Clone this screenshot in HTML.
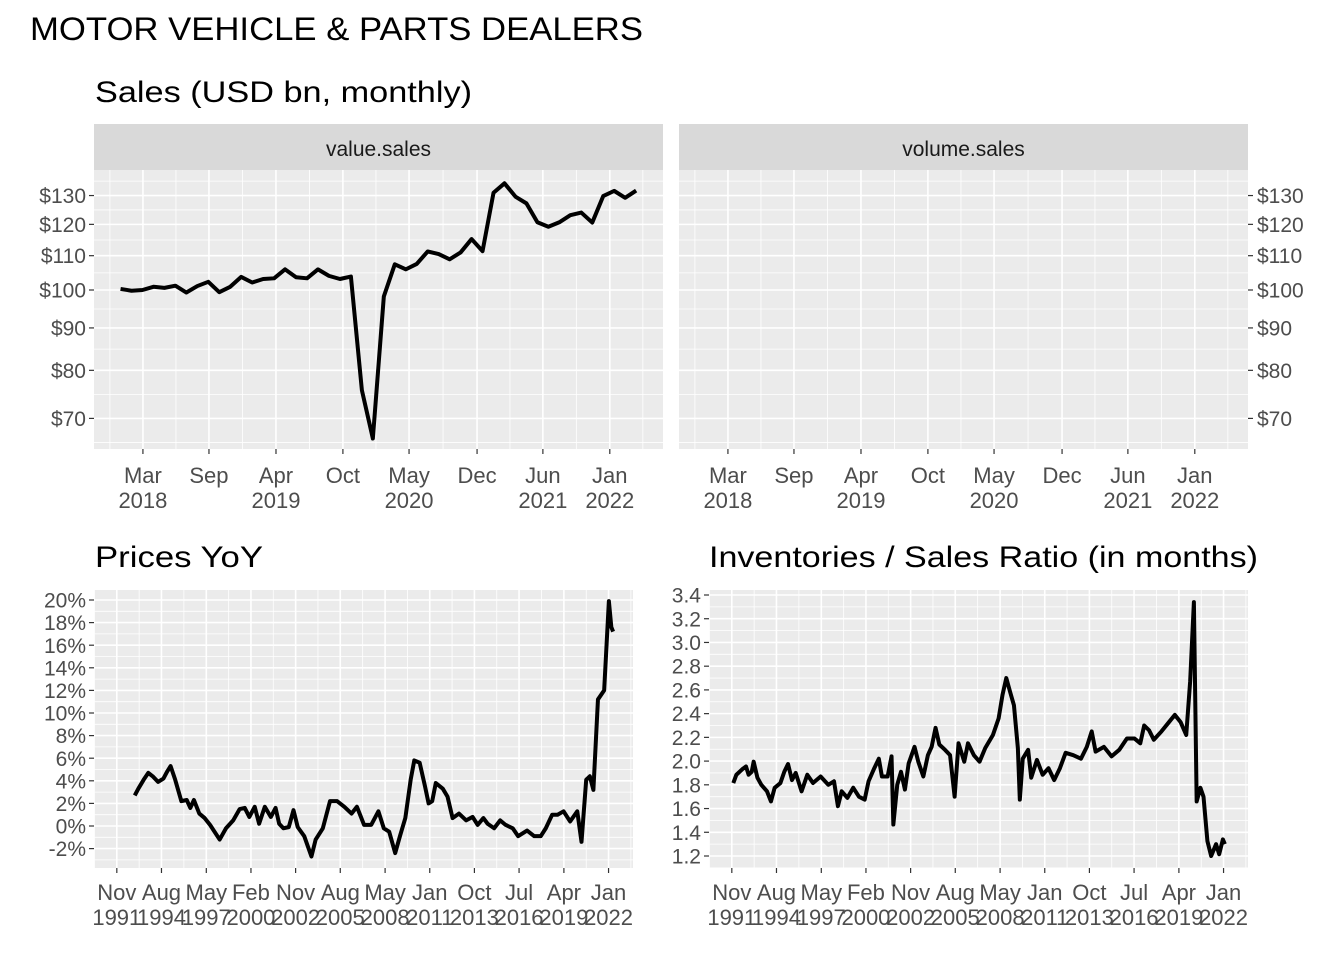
<!DOCTYPE html>
<html><head><meta charset="utf-8"><style>
body{margin:0;background:#fff}
svg{display:block;font-family:"Liberation Sans",Arial,sans-serif}
</style></head><body>
<svg id="c" width="1344" height="960" viewBox="0 0 1344 960" xmlns="http://www.w3.org/2000/svg">
<rect width="1344" height="960" fill="#fff"/>
<text x="30" y="40" font-size="32" textLength="613" lengthAdjust="spacingAndGlyphs" fill="#000">MOTOR VEHICLE &amp; PARTS DEALERS</text>
<text x="95" y="102" font-size="30" textLength="377" lengthAdjust="spacingAndGlyphs" fill="#000">Sales (USD bn, monthly)</text>
<text x="95" y="567" font-size="30" textLength="168" lengthAdjust="spacingAndGlyphs" fill="#000">Prices YoY</text>
<text x="709" y="567" font-size="30" textLength="549" lengthAdjust="spacingAndGlyphs" fill="#000">Inventories / Sales Ratio (in months)</text>
<g id="g1"></g>
<g id="g2"></g>
<g id="g3"></g>
<g id="g4"></g>
</svg>
<script>
// ---- Sales data (sequential observations, index positions) ----
const salesValues = [100.3,99.8,100,100.9,100.6,101.2,99.3,101.1,102.3,99.4,100.9,103.7,102.1,103.1,103.3,105.9,103.6,103.3,105.9,104.0,103.1,103.8,75.7,66.2,98.2,107.4,105.9,107.5,111.3,110.5,108.9,111.0,115.2,111.4,131.0,134.5,129.6,127.2,120.7,119.2,120.7,123.1,124.0,120.6,129.8,131.7,129.2,131.8];
const salesTickPos = [2.04,8.06,14.17,20.27,26.3,32.5,38.5,44.6];
const salesTickLabels = [["Mar","2018"],["Sep",""],["Apr","2019"],["Oct",""],["May","2020"],["Dec",""],["Jun","2021"],["Jan","2022"]];
const salesYTicks = [70,80,90,100,110,120,130];
// ---- Prices YoY ----
const priceYears = [1992.93,1993.15,1993.48,1993.76,1994.03,1994.36,1994.69,1994.91,1995.13,1995.41,1995.79,1996.12,1996.34,1996.56,1996.89,1997.22,1997.55,1998.14,1998.53,1998.97,1999.37,1999.68,1999.96,2000.29,2000.56,2000.91,2001.28,2001.57,2001.79,2002.05,2002.38,2002.67,2002.93,2003.33,2003.77,2004.03,2004.47,2004.91,2005.35,2005.79,2006.23,2006.56,2007.00,2007.44,2007.88,2008.21,2008.54,2008.91,2009.20,2009.53,2009.86,2010.08,2010.41,2010.74,2010.96,2011.18,2011.40,2011.83,2012.12,2012.43,2012.82,2013.26,2013.66,2013.97,2014.32,2014.58,2014.98,2015.35,2015.68,2016.12,2016.45,2016.78,2017.00,2017.44,2017.84,2018.15,2018.54,2018.87,2019.24,2019.64,2020.08,2020.34,2020.63,2020.85,2021.07,2021.35,2021.73,2022.02,2022.17,2022.28];
const priceValues = [2.7,3.3,4.1,4.7,4.4,3.9,4.2,4.8,5.3,4.1,2.2,2.3,1.6,2.3,1.1,0.7,0.1,-1.2,-0.2,0.5,1.5,1.6,0.8,1.7,0.2,1.7,0.8,1.6,0.2,-0.2,-0.1,1.4,-0.1,-0.9,-2.7,-1.2,-0.2,2.2,2.2,1.7,1.1,1.7,0.1,0.1,1.3,-0.2,-0.5,-2.4,-0.9,0.7,4.1,5.8,5.6,3.5,2.0,2.2,3.8,3.3,2.6,0.7,1.1,0.5,0.8,0.1,0.7,0.2,-0.2,0.5,0.1,-0.2,-0.9,-0.6,-0.4,-0.9,-0.9,-0.2,1.0,1.0,1.3,0.4,1.3,-1.4,4.1,4.4,3.2,11.2,12.0,19.9,17.6,17.2];
const priceYTicks = [-2,0,2,4,6,8,10,12,14,16,18,20];
// ---- Inventories / Sales ----
const invYears = [1991.92,1992.11,1992.46,1992.70,1992.86,1993.05,1993.17,1993.40,1993.64,1993.99,1994.23,1994.46,1994.81,1995.05,1995.28,1995.52,1995.75,1996.11,1996.46,1996.81,1997.28,1997.75,1998.10,1998.34,1998.57,1998.92,1999.28,1999.63,1999.98,2000.22,2000.57,2000.85,2001.04,2001.39,2001.63,2001.74,2001.98,2002.21,2002.45,2002.68,2003.04,2003.27,2003.58,2003.86,2004.09,2004.33,2004.56,2004.91,2005.22,2005.50,2005.74,2006.09,2006.32,2006.68,2007.03,2007.38,2007.85,2008.20,2008.44,2008.67,2008.91,2009.14,2009.38,2009.50,2009.68,2010.01,2010.20,2010.55,2010.90,2011.26,2011.61,2011.96,2012.31,2012.78,2013.25,2013.61,2013.91,2014.15,2014.66,2015.13,2015.60,2016.07,2016.54,2016.89,2017.13,2017.43,2017.72,2018.19,2018.66,2019.01,2019.36,2019.71,2019.95,2020.18,2020.35,2020.58,2020.77,2021.01,2021.24,2021.54,2021.73,2021.96,2022.08];
const invValues = [1.815,1.885,1.93,1.955,1.885,1.91,1.995,1.86,1.80,1.745,1.66,1.775,1.815,1.91,1.975,1.84,1.90,1.745,1.885,1.815,1.87,1.80,1.83,1.62,1.745,1.69,1.775,1.70,1.675,1.83,1.94,2.02,1.87,1.87,2.04,1.465,1.80,1.91,1.76,1.98,2.12,1.995,1.87,2.05,2.12,2.28,2.14,2.095,2.05,1.70,2.15,1.995,2.15,2.05,1.995,2.11,2.22,2.36,2.56,2.70,2.58,2.47,2.11,1.675,2.02,2.095,1.86,2.01,1.885,1.94,1.84,1.94,2.07,2.05,2.02,2.12,2.25,2.08,2.12,2.04,2.095,2.19,2.19,2.15,2.30,2.26,2.18,2.25,2.33,2.39,2.33,2.22,2.67,3.34,1.66,1.775,1.70,1.325,1.20,1.30,1.215,1.34,1.30];
const invYTicks = [1.2,1.4,1.6,1.8,2.0,2.2,2.4,2.6,2.8,3.0,3.2,3.4];
const dateTickYears = [1991.83,1994.57,1997.32,2000.06,2002.80,2005.54,2008.29,2011.03,2013.77,2016.51,2019.26,2022.0];
const dateTickLabels = [["Nov","1991"],["Aug","1994"],["May","1997"],["Feb","2000"],["Nov","2002"],["Aug","2005"],["May","2008"],["Jan","2011"],["Oct","2013"],["Jul","2016"],["Apr","2019"],["Jan","2022"]];

const NS="http://www.w3.org/2000/svg";
function mk(parent,tag,attrs){const e=document.createElementNS(NS,tag);for(const k in attrs)e.setAttribute(k,attrs[k]);parent.appendChild(e);return e;}
function lin(d0,d1,r0,r1){return v=>r0+(v-d0)*(r1-r0)/(d1-d0);}

function panel(g,o){
  const {x0,x1,y0,y1,sx,sy,xt,xl,yt,yl,yside,xs,ys,name,xoff}=o;
  const bg=mk(g,'rect',{x:x0,y:y0,width:x1-x0,height:y1-y0,fill:'#ebebeb'});
  
  
  const xp=xt.map(sx), yp=yt.map(sy);
  const minX=[],minY=[];
  for(let i=0;i<xp.length-1;i++)minX.push((xp[i]+xp[i+1])/2);
  minX.push(xp[0]-(xp[1]-xp[0])/2, xp[xp.length-1]+(xp[1]-xp[0])/2);
  for(let i=0;i<yp.length-1;i++)minY.push((yp[i]+yp[i+1])/2);
  minY.push(yp[0]+(yp[0]-yp[1])/2, yp[yp.length-1]-(yp[yp.length-2]-yp[yp.length-1])/2);
  minX.forEach(x=>{if(x>x0&&x<x1){const l=mk(g,'line',{x1:x,x2:x,y1:y0,y2:y1,stroke:'#fff','stroke-width':0.8});}});
  minY.forEach(y=>{if(y>y0&&y<y1){const l=mk(g,'line',{x1:x0,x2:x1,y1:y,y2:y,stroke:'#fff','stroke-width':0.8});}});
  xp.forEach(x=>{const l=mk(g,'line',{x1:x,x2:x,y1:y0,y2:y1,stroke:'#fff','stroke-width':1.6});});
  yp.forEach(y=>{const l=mk(g,'line',{x1:x0,x2:x1,y1:y,y2:y,stroke:'#fff','stroke-width':1.6});});
  xp.forEach((x,i)=>{
    const t=mk(g,'line',{x1:x,x2:x,y1:y1,y2:y1+5,stroke:'#333','stroke-width':1.2});
    
    const tx=mk(g,'text',{x:x,y:y1+xoff,'font-size':xs,'text-anchor':'middle',fill:'#4d4d4d'});
    
    const a=mk(tx,'tspan',{x:x}); a.textContent=xl[i][0];
    if(xl[i][1]){const b=mk(tx,'tspan',{x:x,dy:25});b.textContent=xl[i][1];}
  });
  if(yl) yp.forEach((y,i)=>{
    const right=yside==='right';
    const xa=right?x1:x0;
    const t=mk(g,'line',{x1:xa,x2:right?xa+5:xa-5,y1:y,y2:y,stroke:'#333','stroke-width':1.2});
    
    const tx=mk(g,'text',{x:right?xa+9:xa-8,y:y+ys*0.36,'font-size':ys,'text-anchor':right?'start':'end',fill:'#4d4d4d'});
    
    tx.textContent=yl[i];
  });
}
function drawLine(g,xs,ys,sx,sy,name){
  const d=xs.map((x,i)=>(i?'L':'M')+sx(x).toFixed(2)+' '+sy(ys[i]).toFixed(2)).join(' ');
  const p=mk(g,'path',{d:d,fill:'none',stroke:'#000','stroke-width':4,'stroke-linejoin':'round','stroke-linecap':'butt'});
  
  
}
function strip(g,x0,x1,label){
  const r=mk(g,'rect',{x:x0,y:124,width:x1-x0,height:46,fill:'#d9d9d9'});
  
  const t=mk(g,'text',{x:(x0+x1)/2,y:156,'font-size':21,'text-anchor':'middle',fill:'#1a1a1a'});
  
  t.textContent=label;
}
const salesIdx = salesValues.map((v,i)=>i);
const sy1 = v=>290-360*Math.log(v/100);
const ylab1 = salesYTicks.map(v=>'$'+v);
[[document.getElementById('g1'),94,663,'value.sales','left'],[document.getElementById('g2'),679,1248,'volume.sales','right']].forEach(([g,a,b,lab,side])=>{
  const sx=lin(-2.42,49.45,a,b);
  strip(g,a,b,lab);
  panel(g,{x0:a,x1:b,y0:170,y1:449,sx:sx,sy:sy1,xt:salesTickPos,xl:salesTickLabels,yt:salesYTicks,yl:ylab1,yside:side,xs:22,ys:21,name:lab,xoff:34});
  if(lab==='value.sales') drawLine(g,salesIdx,salesValues,sx,sy1,'sales-value-line');
});
{
  const g=document.getElementById('g3');
  const sx=lin(1990.43,2023.5,94,633), sy=lin(0,20,826,600);
  panel(g,{x0:94,x1:633,y0:590,y1:868,sx:sx,sy:sy,xt:dateTickYears,xl:dateTickLabels,yt:priceYTicks,yl:priceYTicks.map(v=>v+'%'),yside:'left',xs:22,ys:21,name:'prices',xoff:32});
  drawLine(g,priceYears,priceValues,sx,sy,'prices-yoy-line');
}
{
  const g=document.getElementById('g4');
  const sx=lin(1990.43,2023.5,709,1248), sy=lin(1.2,3.4,856,595);
  panel(g,{x0:709,x1:1248,y0:590,y1:868,sx:sx,sy:sy,xt:dateTickYears,xl:dateTickLabels,yt:invYTicks,yl:invYTicks.map(v=>v.toFixed(1)),yside:'left',xs:22,ys:21,name:'inventories',xoff:32});
  drawLine(g,invYears,invValues,sx,sy,'inventories-sales-line');
}
</script>
</body></html>
